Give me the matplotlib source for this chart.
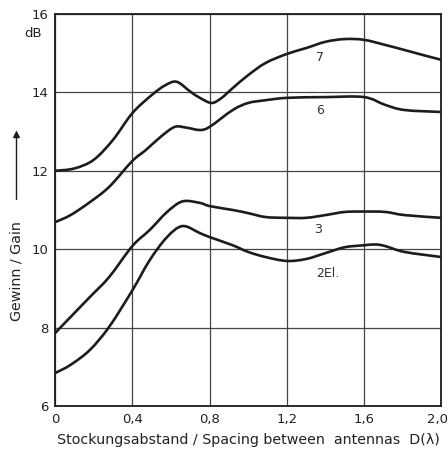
import numpy as np
import matplotlib
matplotlib.use('Agg')
import matplotlib.pyplot as plt
import matplotlib.transforms as mtransforms
from matplotlib.path import Path
from matplotlib.patches import PathPatch

# curve data (spacing D in lambda, gain in dB)
x7 = [0, 0.1, 0.2, 0.3, 0.4, 0.5, 0.57, 0.63, 0.7, 0.75, 0.81, 0.86, 0.92, 1.0, 1.09,
      1.2, 1.3, 1.4, 1.5, 1.6, 1.71, 1.81, 1.9, 2.0]
g7 = [12.0, 12.06, 12.28, 12.79, 13.47, 13.93, 14.18, 14.27, 14.02, 13.86, 13.73, 13.85,
      14.11, 14.44, 14.75, 14.98, 15.13, 15.29, 15.36, 15.34, 15.21, 15.08, 14.96, 14.83]

x6 = [0, 0.08, 0.18, 0.28, 0.4, 0.47, 0.55, 0.62, 0.68, 0.75, 0.8, 0.92, 1.0, 1.09,
      1.2, 1.4, 1.6, 1.71, 1.81, 2.0]
g6 = [10.69, 10.87, 11.2, 11.59, 12.25, 12.53, 12.88, 13.12, 13.1, 13.04, 13.12, 13.55,
      13.73, 13.8, 13.86, 13.88, 13.88, 13.68, 13.55, 13.5]

x3 = [0, 0.08, 0.18, 0.28, 0.4, 0.49, 0.58, 0.66, 0.75, 0.8, 0.92, 1.0, 1.09, 1.2, 1.3,
      1.4, 1.5, 1.6, 1.71, 1.81, 2.0]
g3 = [7.86, 8.27, 8.78, 9.29, 10.08, 10.49, 10.95, 11.22, 11.18, 11.1, 11.0, 10.92, 10.82,
      10.8, 10.8, 10.87, 10.95, 10.96, 10.95, 10.87, 10.8]

x2 = [0, 0.08, 0.18, 0.28, 0.4, 0.49, 0.58, 0.66, 0.75, 0.8, 0.92, 1.0, 1.09, 1.2, 1.3,
      1.4, 1.5, 1.6, 1.66, 1.71, 1.81, 2.0]
g2 = [6.84, 7.05, 7.43, 8.02, 8.95, 9.72, 10.31, 10.59, 10.41, 10.31, 10.1, 9.93, 9.8, 9.7,
      9.75, 9.9, 10.05, 10.1, 10.12, 10.08, 9.93, 9.8]

curve_labels = ['7', '6', '3', '2El.']
label_pos = [(1.37, 14.9), (1.37, 13.55), (1.36, 10.49), (1.41, 9.39)]

xticks = [0, 0.4, 0.8, 1.2, 1.6, 2.0]
xticklabels = ['0', '0,4', '0,8', '1,2', '1,6', '2,0']
yticks = [6, 8, 10, 12, 14, 16]

ink = '#1c1c1c'
txt = '#222222'
plt.rcParams['font.family'] = 'DejaVu Sans'


def smooth_path(xs, ys):
    # Catmull-Rom through the read points, drawn as cubic Bezier segments
    p = np.column_stack([xs, ys]).astype(float)
    ext = np.vstack([p[0], p, p[-1]])
    verts = [p[0]]
    codes = [Path.MOVETO]
    for i in range(1, len(ext) - 2):
        c1 = ext[i] + (ext[i + 1] - ext[i - 1]) / 6.0
        c2 = ext[i + 1] - (ext[i + 2] - ext[i]) / 6.0
        verts += [c1, c2, ext[i + 1]]
        codes += [Path.CURVE4] * 3
    return Path(verts, codes)


fig = plt.figure(figsize=(4.48, 4.58), dpi=100)
ax = fig.add_axes([0.123, 0.1135, 0.862, 0.856])

for xs, gs in [(x7, g7), (x6, g6), (x3, g3), (x2, g2)]:
    ax.add_patch(PathPatch(smooth_path(xs, gs), fill=False, edgecolor=ink, lw=1.9,
                           capstyle='round', zorder=3))

for lab, (lx, ly) in zip(curve_labels, label_pos):
    ax.text(lx, ly, lab, ha='center', va='center', fontsize=9, color='#333333')

ax.set_xlim(0, 2.0)
ax.set_ylim(6, 16)
ax.set_xticks(xticks)
ax.set_xticklabels(xticklabels)
ax.set_yticks(yticks)
ax.grid(True, color='#444444', lw=0.9)
ax.tick_params(length=0, labelsize=9.5, colors=txt, pad=5)
for s in ax.spines.values():
    s.set_color(ink)
    s.set_linewidth(1.3)

# keep the last tick label inside the figure edge
last = ax.get_xticklabels()[-1]
last.set_horizontalalignment('right')
last.set_transform(last.get_transform() + mtransforms.ScaledTranslation(5 / 72, 0, fig.dpi_scale_trans))

ax.set_xlabel('Stockungsabstand / Spacing between  antennas  D(λ)', fontsize=10.3,
              color=txt, labelpad=5)

# y-axis annotations: dB unit, arrow and rotated label
ax.text(-0.115, 15.5, 'dB', ha='center', va='center', fontsize=9.5, color=txt,
        clip_on=False)
ax.text(-0.2, 9.45, 'Gewinn / Gain', rotation=90, ha='center', va='center',
        fontsize=10.3, color=txt, clip_on=False)
ax.annotate('', xy=(-0.2, 13.1), xytext=(-0.2, 11.2), annotation_clip=False,
            arrowprops=dict(arrowstyle='-|>', color=ink, lw=1.0, mutation_scale=10))

fig.savefig('out.png', dpi=100)
